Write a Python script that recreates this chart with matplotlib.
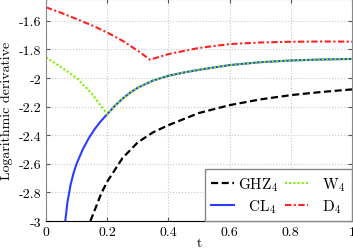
import numpy as np
import matplotlib.pyplot as plt
from matplotlib.ticker import FuncFormatter

plt.rcParams['font.family'] = ['cmr10', 'DejaVu Serif']
plt.rcParams['mathtext.fontset'] = 'cm'
plt.rcParams['axes.unicode_minus'] = False

# GHZ_4
t_ghz = [0.145, 0.16, 0.18, 0.2, 0.25, 0.3, 0.35, 0.4, 0.5, 0.6, 0.7, 0.8, 0.9, 1.0]
v_ghz = [-3.0, -2.92, -2.81, -2.725, -2.56, -2.45, -2.38, -2.33, -2.245, -2.19, -2.15, -2.12, -2.098, -2.08]

# common tail of CL_4 and W_4 after the kink at t = 0.2
t_tail = [0.2, 0.225, 0.25, 0.275, 0.3, 0.35, 0.4, 0.45, 0.5, 0.6, 0.7, 0.8, 0.9, 1.0]
v_tail = [-2.253, -2.195, -2.145, -2.103, -2.068, -2.018, -1.985, -1.962, -1.943, -1.91, -1.89, -1.878, -1.871, -1.867]

# CL_4 before the kink
t_cl = [0.063, 0.07, 0.08, 0.09, 0.1, 0.12, 0.14, 0.16, 0.18]
v_cl = [-3.0, -2.87, -2.75, -2.665, -2.6, -2.5, -2.42, -2.355, -2.30]

# W_4 before the kink
t_w = [0.0, 0.05, 0.1, 0.15]
v_w = [-1.856, -1.925, -2.0, -2.11]

# D_4
t_d = [0.0, 0.05, 0.1, 0.15, 0.2, 0.25, 0.3, 0.34, 0.4, 0.5, 0.6, 0.7, 0.8, 0.9, 1.0]
v_d = [-1.506, -1.545, -1.588, -1.632, -1.682, -1.74, -1.81, -1.872, -1.833, -1.79, -1.763, -1.752, -1.747, -1.745, -1.746]

fig = plt.figure(figsize=(3.53, 2.51), dpi=100)
ax = fig.add_axes([46 / 353, 1 - 222 / 251, 306 / 353, 222 / 251])

ax.plot(t_ghz, v_ghz, color='black', lw=1.6, dashes=(3.2, 1.6), label='GHZ$_4$')
ax.plot(t_cl + t_tail, v_cl + v_tail, color='#2a3cff', lw=1.5, label='  CL$_4$')
ax.plot(t_w + t_tail, v_w + v_tail, color='#7df000', lw=1.5, dashes=(1, 1), label='  W$_4$')
ax.plot(t_d, v_d, color='#ff2020', lw=1.5, dashes=(3, 1.2, 1, 1.2), label='  D$_4$')

ax.set_xlim(0, 1)
ax.set_ylim(-3, -1.448)
ax.set_xticks([0, 0.2, 0.4, 0.6, 0.8, 1])
ax.set_yticks([-3, -2.8, -2.6, -2.4, -2.2, -2, -1.8, -1.6])
fmt = FuncFormatter(lambda v, p: ('%.1f' % v).rstrip('0').rstrip('.'))
ax.xaxis.set_major_formatter(fmt)
ax.yaxis.set_major_formatter(fmt)
ax.tick_params(direction='in', length=3, labelsize=10, right=True, top=True, color='#555555')
ax.grid(True, linestyle=':', color='#c8c8c8', lw=0.8)
for s in ['left', 'right', 'top']:
    ax.spines[s].set_color('#888888')
ax.spines['bottom'].set_color('black')

ax.set_xlabel('t', fontsize=10, labelpad=-1)
ax.set_ylabel('Logarithmic derivative', fontsize=10, labelpad=4)

leg = ax.legend(ncol=2, loc='lower right', fontsize=11, frameon=True, fancybox=False,
                edgecolor='#888888', framealpha=1, borderaxespad=0, handlelength=1.5,
                columnspacing=0.4, handletextpad=0.3, borderpad=0.4, labelspacing=0.3)
leg.get_frame().set_linewidth(1.0)

fig.savefig('out.png', dpi=100)
